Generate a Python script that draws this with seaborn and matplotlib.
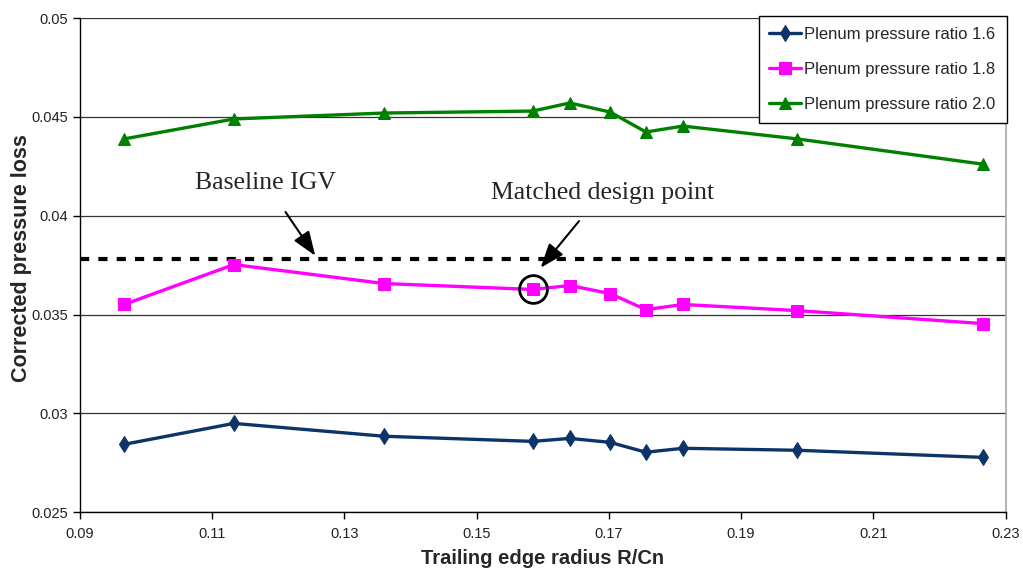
import pandas as pd
import numpy as np
import matplotlib
matplotlib.use("Agg")
import matplotlib.pyplot as plt
import seaborn as sns

radius = [0.0967, 0.1133, 0.1360, 0.1585, 0.1641, 0.1702, 0.1756, 0.1812, 0.1985, 0.2266]
loss_16 = [0.02843, 0.02949, 0.02884, 0.02858, 0.02873, 0.02853, 0.02803, 0.02823, 0.02813, 0.02777]
loss_18 = [0.03551, 0.03753, 0.03657, 0.03627, 0.03647, 0.03606, 0.03525, 0.03551, 0.03520, 0.03454]
loss_20 = [0.04389, 0.04490, 0.04520, 0.04530, 0.04571, 0.04525, 0.04424, 0.04454, 0.04389, 0.04261]
baseline_igv = 0.03782
design_x, design_y = 0.1585, 0.03627

series = [
    ("Plenum pressure ratio 1.6", loss_16, "#0d3468", "d", 8),
    ("Plenum pressure ratio 1.8", loss_18, "#ff00ff", "s", 8),
    ("Plenum pressure ratio 2.0", loss_20, "#008000", "^", 8.5),
]

sns.set_theme(style="white")
plt.rcParams['font.family'] = ['Liberation Sans', 'DejaVu Sans']

fig = plt.figure(figsize=(10.23, 5.69), dpi=100)
ax = fig.add_axes([0.078, 0.1, 0.905, 0.868])

for name, vals, col, mk, ms in series:
    df = pd.DataFrame({"x": radius, "y": vals})
    sns.lineplot(data=df, x="x", y="y", ax=ax, color=col, marker=mk, lw=2.4,
                 markersize=ms, markeredgecolor=col, label=name)

ax.axhline(baseline_igv, color="black", lw=3, ls=(0, (2.2, 2.2)), zorder=1)
ax.plot([design_x], [design_y], marker="o", ms=20, mfc="none", mec="black", mew=2, zorder=5)

serif = ['Liberation Serif', 'DejaVu Serif']
arrow = dict(arrowstyle="-|>,head_length=0.8,head_width=0.3", color="black", lw=1.5,
             shrinkA=13, shrinkB=0)
ax.annotate("Baseline IGV", xy=(0.1256, 0.03798), xytext=(0.1181, 0.04167),
            ha="center", va="center", fontsize=18.5, family=serif, arrowprops=arrow)
ax.annotate("Matched design point", xy=(0.1597, 0.03737), xytext=(0.169, 0.04116),
            ha="center", va="center", fontsize=18.5, family=serif, arrowprops=arrow)

ax.set_xlim(0.09, 0.23)
ax.set_ylim(0.025, 0.05)
ax.set_xticks(np.arange(0.09, 0.2301, 0.02))
ax.set_xticklabels(["0.09", "0.11", "0.13", "0.15", "0.17", "0.19", "0.21", "0.23"])
ax.set_yticks([0.025, 0.03, 0.035, 0.04, 0.045, 0.05])
ax.set_yticklabels(["0.025", "0.03", "0.035", "0.04", "0.045", "0.05"])
ax.tick_params(axis="both", labelsize=10.5, length=5, width=1, color="black", direction="out",
               left=True, bottom=True, labelcolor="#222222")
ax.tick_params(axis="x", pad=6)
ax.yaxis.grid(True, color="#333333", lw=0.9)
ax.set_axisbelow(True)
for s in ["left", "bottom"]:
    ax.spines[s].set_color("black")
    ax.spines[s].set_linewidth(1)
ax.spines["top"].set_visible(False)
ax.spines["right"].set_color("#aaaaaa")

ax.set_xlabel("Trailing edge radius R/Cn", fontsize=14.5, fontweight="bold")
ax.xaxis.set_label_coords(0.5, -0.075)
ax.set_ylabel("Corrected pressure loss", fontsize=15.5, fontweight="bold")
ax.yaxis.set_label_coords(-0.052, 0.514)

leg = ax.legend(loc="upper right", bbox_to_anchor=(1.001, 1.004), borderaxespad=0,
                fontsize=12, frameon=True, fancybox=False, edgecolor="black", framealpha=1,
                handlelength=1.9, handletextpad=0.2, labelspacing=1.2, borderpad=0.65)
leg.get_frame().set_linewidth(1)

fig.savefig("out.png", dpi=100)
